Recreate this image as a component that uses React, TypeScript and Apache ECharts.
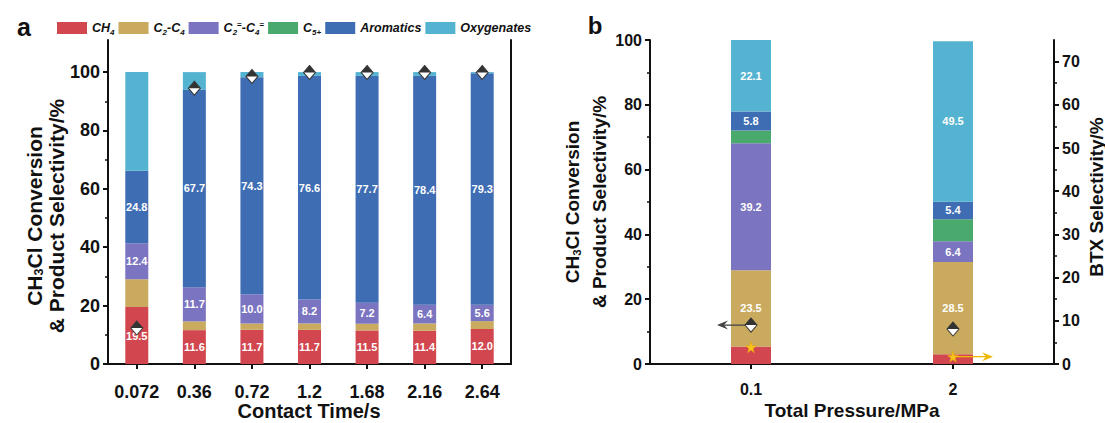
import React, { useEffect, useRef } from "react";
import * as echarts from "echarts";

const FONT = "'Liberation Sans', Arial, sans-serif";

// Panel a: contact time
const categoriesA = ["0.072", "0.36", "0.72", "1.2", "1.68", "2.16", "2.64"];
const ch4A = [19.5, 11.6, 11.7, 11.7, 11.5, 11.4, 12.0];
const c2c4A = [9.5, 3.0, 2.2, 2.2, 2.3, 2.5, 2.7];
const olefinA = [12.4, 11.7, 10.0, 8.2, 7.2, 6.4, 5.6];
const c5A = [0, 0, 0, 0, 0, 0, 0];
const aromA = [24.8, 67.7, 74.3, 76.6, 77.7, 78.4, 79.3];
const oxyA = [33.8, 6.0, 1.8, 1.3, 1.3, 1.3, 0.4];
const convA = [12.3, 94.5, 98.5, 99.9, 99.9, 99.9, 99.9];

// Panel b: total pressure
const categoriesB = ["0.1", "2"];
const ch4B = [5.4, 3.0];
const c2c4B = [23.5, 28.5];
const olefinB = [39.2, 6.4];
const c5B = [4.0, 6.8];
const aromB = [5.8, 5.4];
const oxyB = [22.1, 49.5];
const convB = [12.0, 10.8];
const btxB = [3.9, 1.7];

const leftMajorTicks = [0, 20, 40, 60, 80, 100];
const leftMinorTicks = [10, 30, 50, 70, 90];
const rightMajorTicks = [0, 10, 20, 30, 40, 50, 60, 70];
const rightMinorTicks = [5, 15, 25, 35, 45, 55, 65];

const names = ["CH4", "C2-C4", "C2=-C4=", "C5+", "Aromatics", "Oxygenates"];
const colors = ["#d2474f", "#c9aa5e", "#7b74c0", "#4aa96c", "#3e6db3", "#54b3d1"];

const legendRich: Record<string, string> = {
  CH4: "{t|CH}{s|4}",
  "C2-C4": "{t|C}{s|2}{t|-C}{s|4}",
  "C2=-C4=": "{t|C}{s|2}{u|=}{t|-C}{s|4}{u|=}",
  "C5+": "{t|C}{s|5+}",
  Aromatics: "{t|Aromatics}",
  Oxygenates: "{t|Oxygenates}",
};

const DIAMOND_TOP = "path://M0,0 L10,10 L-10,10 Z";
const STAR =
  "path://M50,0 L61,35 L98,35 L68,57 L79,91 L50,70 L21,91 L32,57 L2,35 L39,35 Z";

const AXIS_COLOR = "#111";

function barLabel(show: boolean) {
  return {
    show,
    position: "inside",
    color: "#fff",
    fontSize: 11,
    fontWeight: "bold",
    fontFamily: FONT,
    formatter: (p: any) => (p.value > 0 ? Number(p.value).toFixed(1) : ""),
  };
}

function App() {
  const ref = useRef<HTMLDivElement>(null);

  useEffect(() => {
    document.body.style.margin = "0";
    if (!ref.current) return;
    const chart = echarts.init(ref.current, null, { renderer: "svg" });

    const seriesA = [ch4A, c2c4A, olefinA, c5A, aromA, oxyA];
    const seriesB = [ch4B, c2c4B, olefinB, c5B, aromB, oxyB];
    const labelA = [true, false, true, false, true, false];
    const labelB = [false, true, true, false, true, true];

    const bars: any[] = [];
    seriesA.forEach((d, i) =>
      bars.push({
        type: "bar",
        name: names[i],
        stack: "a",
        xAxisIndex: 0,
        yAxisIndex: 0,
        barWidth: 23,
        data: d,
        itemStyle: { color: colors[i] },
        label: barLabel(labelA[i]),
      })
    );
    seriesB.forEach((d, i) =>
      bars.push({
        type: "bar",
        name: names[i],
        stack: "b",
        xAxisIndex: 2,
        yAxisIndex: 3,
        barWidth: 40,
        data: d,
        itemStyle: { color: colors[i] },
        label: barLabel(labelB[i]),
      })
    );

    const diamond = (xi: number, yi: number, data: number[]) => [
      {
        type: "scatter",
        name: "conv-bg",
        xAxisIndex: xi,
        yAxisIndex: yi,
        z: 5,
        symbol: "diamond",
        symbolSize: [12, 14],
        data,
        itemStyle: { color: "#fff", borderColor: "#333", borderWidth: 1, opacity: 1 },
      },
      {
        type: "scatter",
        name: "conv-top",
        xAxisIndex: xi,
        yAxisIndex: yi,
        z: 6,
        symbol: DIAMOND_TOP,
        symbolSize: [12, 7],
        symbolOffset: [0, -3.5],
        data,
        itemStyle: { color: "#333", opacity: 1 },
      },
    ];

    const lineStyle = { color: AXIS_COLOR, width: 2 };

    const majorY = (grid: number, max: number, fs: number, pos: string, vals: number[]) => ({
      type: "value",
      gridIndex: grid,
      min: 0,
      max,
      position: pos,
      axisLine: { show: true, onZero: false, lineStyle },
      axisTick: { show: true, length: 5, customValues: vals, lineStyle },
      axisLabel: {
        show: true,
        customValues: vals,
        fontSize: fs,
        fontWeight: "bold",
        fontFamily: FONT,
        color: AXIS_COLOR,
        margin: 8,
      },
      splitLine: { show: false },
    });
    const minorY = (grid: number, max: number, pos: string, vals: number[]) => ({
      type: "value",
      gridIndex: grid,
      min: 0,
      max,
      position: pos,
      axisLine: { show: false },
      axisTick: { show: true, length: 3, customValues: vals, lineStyle: { color: AXIS_COLOR, width: 1.5 } },
      axisLabel: { show: false },
      splitLine: { show: false },
    });
    const frameY = (grid: number, max: number) => ({
      type: "value",
      gridIndex: grid,
      min: 0,
      max,
      position: "right",
      axisLine: { show: true, lineStyle },
      axisTick: { show: false },
      axisLabel: { show: false },
      splitLine: { show: false },
    });
    const bottomX = (grid: number, cats: string[], fs: number, margin: number) => ({
      type: "category",
      gridIndex: grid,
      data: cats,
      position: "bottom",
      axisLine: { show: true, lineStyle },
      axisTick: { show: true, alignWithLabel: true, interval: 0, length: 5, lineStyle },
      axisLabel: {
        interval: 0,
        fontSize: fs,
        fontWeight: "bold",
        fontFamily: FONT,
        color: AXIS_COLOR,
        margin,
      },
    });
    const topX = (grid: number, cats: string[]) => ({
      type: "category",
      gridIndex: grid,
      data: cats,
      position: "top",
      axisLine: { show: true, lineStyle },
      axisTick: { show: false },
      axisLabel: { show: false },
    });

    const option: any = {
      animation: false,
      backgroundColor: "#fff",
      textStyle: { fontFamily: FONT },
      legend: {
        left: 52,
        top: 15,
        icon: "rect",
        itemWidth: 30,
        itemHeight: 12,
        itemGap: 4,
        data: names,
        selectedMode: false,
        formatter: (n: string) => legendRich[n],
        textStyle: {
          fontFamily: FONT,
          rich: {
            t: { fontSize: 12.5, fontWeight: "bold", fontStyle: "italic", color: "#111", fontFamily: FONT, lineHeight: 16 },
            s: { fontSize: 8, fontWeight: "bold", fontStyle: "italic", color: "#111", fontFamily: FONT, lineHeight: 8, verticalAlign: "bottom" },
            u: { fontSize: 8, fontWeight: "bold", color: "#111", fontFamily: FONT, lineHeight: 8, verticalAlign: "top" },
          },
        },
      },
      grid: [
        { left: 108, top: 40, width: 403, height: 324 },
        { left: 650, top: 40, width: 404, height: 324 },
      ],
      xAxis: [
        bottomX(0, categoriesA, 18, 19),
        topX(0, categoriesA),
        bottomX(1, categoriesB, 16, 17),
        topX(1, categoriesB),
      ],
      yAxis: [
        majorY(0, 111, 18, "left", leftMajorTicks),
        minorY(0, 111, "left", leftMinorTicks),
        frameY(0, 111),
        majorY(1, 100, 16, "left", leftMajorTicks),
        minorY(1, 100, "left", leftMinorTicks),
        majorY(1, 75, 16, "right", rightMajorTicks),
        minorY(1, 75, "right", rightMinorTicks),
      ],
      series: [
        ...bars,
        ...diamond(0, 0, convA),
        ...diamond(2, 3, convB),
        {
          type: "scatter",
          name: "btx",
          xAxisIndex: 2,
          yAxisIndex: 5,
          z: 6,
          symbol: STAR,
          symbolSize: 11,
          data: btxB,
          itemStyle: { color: "#f8c41c", borderColor: "#eaa600", borderWidth: 0.5, opacity: 1 },
        },
      ],
    };
    chart.setOption(option);

    const pConv = chart.convertToPixel({ xAxisIndex: 2, yAxisIndex: 3 }, [0, convB[0]]) as number[];
    const pBtx = chart.convertToPixel({ xAxisIndex: 2, yAxisIndex: 5 }, [1, btxB[1]]) as number[];

    const titleRich = (fs: number) => ({
      m: { fontSize: fs, fontWeight: "bold", fontFamily: FONT, fill: "#111", lineHeight: fs + 2 },
      s: { fontSize: fs * 0.6, fontWeight: "bold", fontFamily: FONT, fill: "#111", lineHeight: fs * 0.6, verticalAlign: "bottom" },
    });
    const rotText = (x: number, y: number, text: string, fs: number) => ({
      type: "text",
      x,
      y,
      rotation: Math.PI / 2,
      style: {
        text,
        align: "center",
        verticalAlign: "middle",
        fontSize: fs,
        fontWeight: "bold",
        fontFamily: FONT,
        fill: "#111",
        rich: titleRich(fs),
      },
    });
    const plainText = (x: number, y: number, text: string, fs: number) => ({
      type: "text",
      x,
      y,
      style: {
        text,
        align: "center",
        verticalAlign: "middle",
        fontSize: fs,
        fontWeight: "bold",
        fontFamily: FONT,
        fill: "#111",
      },
    });

    const ax = pConv[0] - 2;
    const ay = pConv[1];
    const tipA = 717;
    const bx = pBtx[0] + 2;
    const by = pBtx[1];
    const tipB = 993;

    chart.setOption({
      graphic: [
        plainText(24, 27, "a", 25),
        plainText(595, 25, "b", 24),
        rotText(34, 216, "{m|CH}{s|3}{m|Cl Conversion}", 21),
        rotText(56, 216, "{m|& Product Selectivity/%}", 21),
        rotText(572, 202, "{m|CH}{s|3}{m|Cl Conversion}", 19),
        rotText(599, 202, "{m|& Product Selectivity/%}", 19),
        rotText(1096, 197, "{m|BTX Selectivity/%}", 19),
        plainText(309, 411, "Contact Time/s", 20),
        plainText(852, 410, "Total Pressure/MPa", 19),
        {
          type: "line",
          z: 3,
          shape: { x1: ax, y1: ay, x2: tipA + 6, y2: ay },
          style: { stroke: "#444", lineWidth: 1.3 },
        },
        {
          type: "polygon",
          z: 3,
          shape: { points: [[tipA, ay], [tipA + 11, ay - 4.5], [tipA + 7, ay], [tipA + 11, ay + 4.5]] },
          style: { fill: "#444" },
        },
        {
          type: "line",
          z: 3,
          shape: { x1: bx, y1: by, x2: tipB - 6, y2: by },
          style: { stroke: "#f2b705", lineWidth: 1.3 },
        },
        {
          type: "polygon",
          z: 3,
          shape: { points: [[tipB, by], [tipB - 11, by - 4.5], [tipB - 7, by], [tipB - 11, by + 4.5]] },
          style: { fill: "#f2b705" },
        },
      ],
    });

    return () => chart.dispose();
  }, []);

  return <div ref={ref} style={{ width: 1105, height: 423 }} />;
}

export default App;
